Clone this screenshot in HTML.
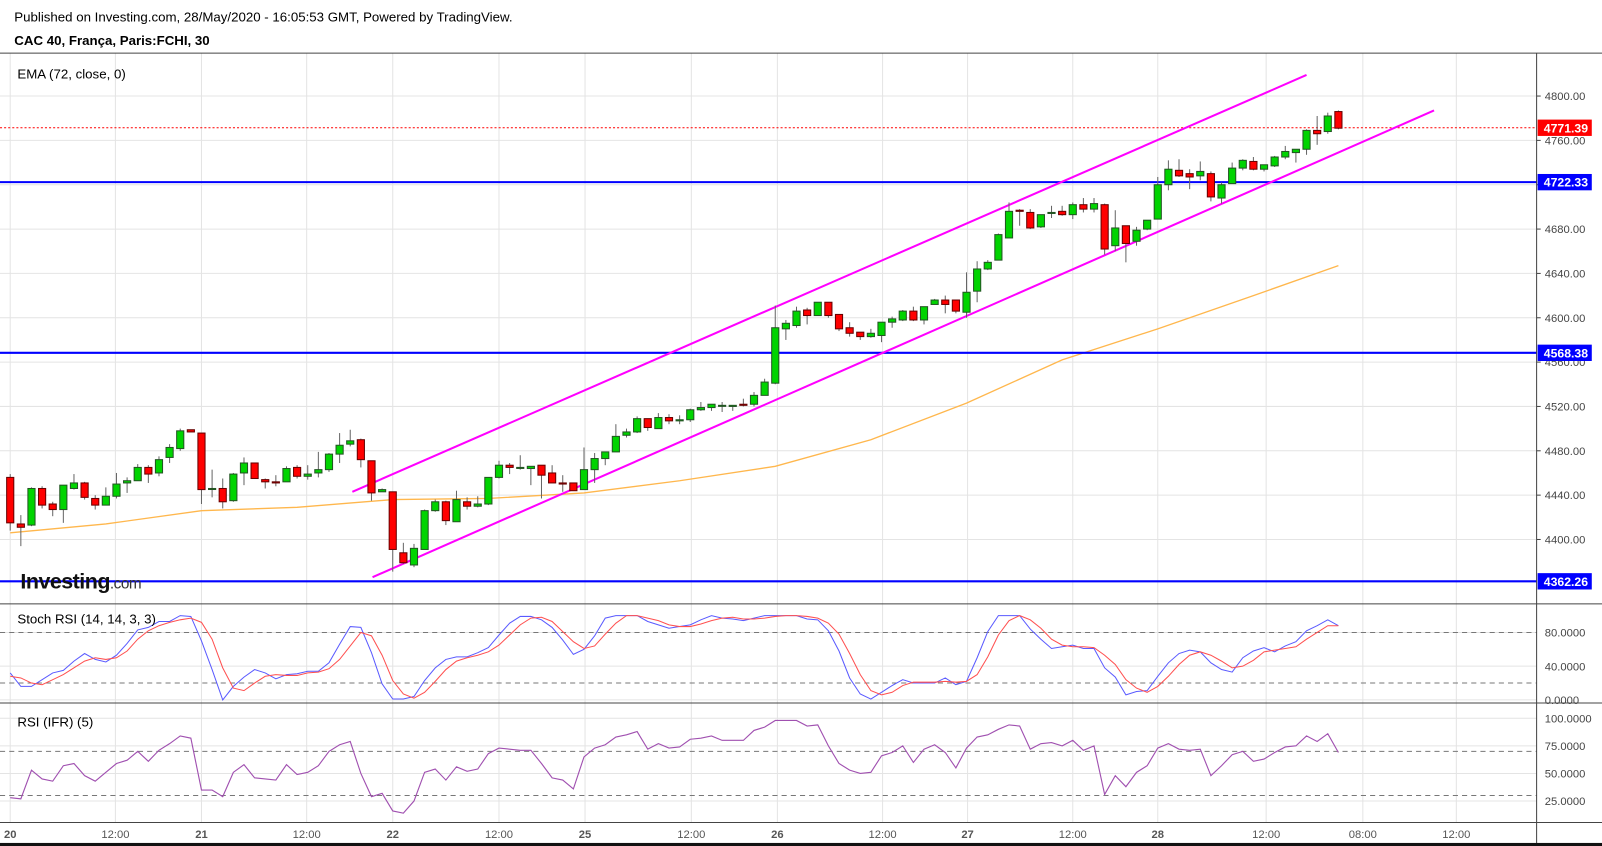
<!DOCTYPE html>
<html><head><meta charset="utf-8"><style>
html,body{margin:0;padding:0;background:#fff;width:1602px;height:846px;overflow:hidden}
svg{display:block;font-family:"Liberation Sans",Arial,sans-serif}
</style></head><body>
<svg id="chart" width="1602" height="846" viewBox="0 0 1568 828" preserveAspectRatio="none" xmlns="http://www.w3.org/2000/svg">
<rect x="0" y="0" width="1568" height="828" fill="#fff"/>
<text x="14" y="21" font-size="13" fill="#000">Published on Investing.com, 28/May/2020 - 16:05:53 GMT, Powered by TradingView.</text>
<text x="14" y="44" font-size="13" font-weight="bold" fill="#000">CAC 40, França, Paris:FCHI, 30</text>
<g id="grid"></g>
<g id="main"></g>
<g id="stoch"></g>
<g id="rsi"></g>
<g id="axes"></g>
<text x="17" y="77" font-size="13" fill="#000">EMA (72, close, 0)</text>
<text x="17" y="610" font-size="13" fill="#000">Stoch RSI (14, 14, 3, 3)</text>
<text x="17" y="711" font-size="13" fill="#000">RSI (IFR) (5)</text>
<g><text x="20" y="576" font-size="21" font-weight="bold" fill="#111" letter-spacing="-0.5">Investing<tspan font-weight="normal" font-size="15" fill="#333">.com</tspan></text></g>
</svg>
<script>
const opens=[4456,4414,4413,4446,4432,4427,4446,4451,4437,4431,4439,4451,4453,4465,4460,4474,4482,4499,4496,4446,4446,4435,4460,4469,4454,4452,4452,4465,4457,4460,4463,4477,4486,4490,4471,4443,4443,4388,4377,4391,4426,4434,4416,4434,4430,4432,4456,4467,4465,4464,4467,4460,4451,4451,4445,4463,4473,4479,4494,4497,4509,4500,4510,4507,4508,4517,4519,4521,4520,4522,4522,4530,4541,4590,4593,4607,4602,4614,4603,4591,4587,4583,4584,4596,4598,4606,4598,4612,4616,4616,4605,4624,4644,4652,4672,4697,4695,4682,4695,4696,4693,4702,4698,4702,4665,4683,4669,4680,4689,4720,4733,4730,4728,4730,4708,4721,4735,4741,4734,4737,4745,4749,4752,4769,4768,4786];
const closes=[4415,4411,4446,4431,4427,4449,4451,4438,4431,4439,4450,4453,4465,4459,4472,4483,4498,4497,4445,4446,4434,4459,4469,4455,4452,4451,4464,4457,4459,4463,4477,4485,4489,4472,4442,4445,4391,4379,4392,4426,4434,4417,4436,4430,4432,4456,4467,4465,4465,4466,4458,4451,4450,4444,4463,4473,4479,4493,4497,4509,4501,4510,4507,4508,4517,4519,4522,4521,4521,4521,4530,4542,4591,4595,4606,4602,4614,4602,4590,4586,4583,4586,4596,4599,4606,4598,4610,4616,4612,4606,4623,4644,4650,4675,4696,4696,4681,4693,4695,4693,4702,4698,4703,4662,4681,4667,4679,4688,4720,4734,4728,4727,4732,4709,4720,4735,4742,4734,4738,4745,4750,4752,4769,4766,4782,4771];
const highs=[4459,4422,4447,4448,4434,4449,4459,4452,4440,4447,4460,4456,4468,4467,4475,4486,4500,4499,4496,4463,4455,4460,4474,4469,4455,4458,4466,4467,4467,4479,4478,4496,4499,4491,4471,4446,4443,4397,4396,4427,4436,4435,4444,4438,4439,4456,4471,4469,4476,4466,4467,4467,4458,4451,4483,4478,4479,4504,4500,4511,4509,4514,4513,4512,4518,4524,4522,4524,4521,4527,4533,4545,4611,4598,4610,4609,4614,4614,4603,4596,4587,4590,4596,4601,4607,4610,4610,4617,4620,4616,4641,4651,4652,4676,4704,4698,4698,4693,4701,4701,4704,4708,4708,4703,4697,4683,4682,4688,4727,4742,4743,4734,4741,4732,4722,4740,4743,4745,4738,4746,4755,4752,4770,4782,4785,4787];
const lows=[4408,4394,4412,4428,4421,4415,4445,4436,4427,4431,4437,4442,4453,4451,4457,4469,4480,4497,4432,4438,4428,4434,4449,4455,4446,4448,4452,4455,4454,4456,4461,4469,4484,4465,4435,4443,4371,4378,4375,4391,4425,4413,4416,4427,4429,4431,4455,4459,4463,4449,4437,4451,4443,4444,4445,4451,4467,4479,4492,4496,4498,4500,4504,4504,4506,4516,4516,4515,4516,4520,4520,4530,4540,4580,4591,4594,4602,4600,4588,4583,4580,4582,4578,4591,4597,4597,4594,4612,4604,4604,4600,4614,4643,4652,4672,4683,4680,4681,4690,4692,4689,4695,4695,4657,4660,4650,4665,4679,4689,4715,4727,4716,4724,4705,4703,4721,4733,4733,4732,4736,4743,4740,4747,4756,4766,4770];
const emaIdx=[0,9,18,27,36,45,54,63,72,81,90,99,108,117,125];
const emaVal=[4406,4414,4426,4429,4436,4437,4442,4453,4466,4490,4523,4562,4590,4620,4647];
const stochK=[32,16,16,24,32,35,46,55,48,45,53,67,83,86,93,93,100,99,70,36,0,16,27,36,32,25,30,31,34,34,44,66,87,86,56,19,1,1,4,23,38,48,51,51,56,62,77,91,99,99,95,86,71,54,60,76,97,100,100,100,93,89,85,87,89,95,100,97,96,94,97,100,100,100,100,96,95,82,58,26,7,1,9,17,24,20,20,20,26,18,22,50,81,100,100,100,84,72,61,63,65,61,61,38,27,6,10,11,28,44,55,59,57,44,36,33,50,58,62,57,64,69,82,88,95,88];
const stochD=[28,26,20,18,24,30,38,46,50,48,50,58,72,82,88,92,95,97,92,72,38,14,11,20,28,30,29,29,32,33,37,48,64,80,76,53,23,7,2,9,22,36,46,50,53,57,65,77,89,97,98,93,81,69,61,64,78,91,100,100,97,94,89,87,87,90,94,97,98,96,96,97,99,100,100,99,97,91,78,55,30,11,6,9,17,21,21,21,22,21,22,30,51,77,94,100,95,85,72,65,63,63,62,53,42,24,14,9,16,28,42,53,57,53,46,38,40,47,57,59,61,63,72,80,88,88];
const rsiVal=[28,27,53,45,43,57,59,48,43,51,59,62,70,61,71,77,84,82,35,35,29,51,58,46,45,44,58,49,51,57,70,76,79,50,29,32,16,14,25,51,54,44,56,52,54,68,73,72,71,71,59,46,44,36,65,73,76,83,85,88,72,77,73,74,81,82,84,80,80,80,89,92,98,98,98,93,94,75,59,53,50,51,66,69,75,60,72,76,69,55,73,83,85,90,94,93,72,77,78,75,80,71,75,31,48,38,51,57,73,77,72,71,72,48,57,67,70,61,63,69,74,75,84,79,86,69];
const tickIdx=[0,9.9,18,27.9,36,46,54.1,64.1,72.2,82.1,90.1,100,108,118.2,127.3,136.1];
const tickLbl=["20","12:00","21","12:00","22","12:00","25","12:00","26","12:00","27","12:00","28","12:00","08:00","12:00"];
const tickBold=[1,0,1,0,1,0,1,0,1,0,1,0,1,0,0,0];
const priceTicks=[4800,4760,4720,4680,4640,4600,4560,4520,4480,4440,4400];
const priceLbls=["4800.00","4760.00","","4680.00","4640.00","4600.00","4560.00","4520.00","4480.00","4440.00","4400.00"];
const hLevels=[4722.33,4568.38,4362.26];
const lastPrice=4771.39;
const chanUpper=[[32.2,4443],[122,4819]];
const chanLower=[[34.1,4366],[134,4787]];
const stochTicks=[80,40,0];
const stochLbls=["80.0000","40.0000","0.0000"];
const rsiTicks=[100,75,50,25];
const rsiLbls=["100.0000","75.0000","50.0000","25.0000"];

const NS="http://www.w3.org/2000/svg";
const xOf=i=>10+i*10.4;
const yP=p=>94+(4800-p)*1.085;
const yS=v=>685-v*0.825;
const yR=v=>784-(v-25)*1.08;
const PR=1504;
function mk(tag,attrs,parent){const e=document.createElementNS(NS,tag);for(const k in attrs)e.setAttribute(k,attrs[k]);parent.appendChild(e);return e;}
const G=document.getElementById('grid'),M=document.getElementById('main'),S=document.getElementById('stoch'),R=document.getElementById('rsi'),A=document.getElementById('axes');

tickIdx.forEach((t,k)=>{const l=mk('line',{x1:xOf(t),x2:xOf(t),y1:52,y2:805,stroke:'#e4e4e4','stroke-width':1},G);

});
priceTicks.forEach(p=>{const l=mk('line',{x1:0,x2:PR,y1:yP(p),y2:yP(p),stroke:'#e4e4e4','stroke-width':1},G);

});
stochTicks.forEach(v=>{const l=mk('line',{x1:0,x2:PR,y1:yS(v),y2:yS(v),stroke:'#e4e4e4'},G);

});
rsiTicks.forEach(v=>{const l=mk('line',{x1:0,x2:PR,y1:yR(v),y2:yR(v),stroke:'#e4e4e4'},G);

});

const emaPts=emaIdx.map((i,k)=>xOf(i)+','+yP(emaVal[k])).join(' ');
const ema=mk('polyline',{points:emaPts,fill:'none',stroke:'#ffb74d','stroke-width':1.3},M);



hLevels.forEach(p=>{const l=mk('line',{x1:0,x2:PR,y1:yP(p),y2:yP(p),stroke:'#0000ff','stroke-width':2},M);

});
const lp=mk('line',{x1:0,x2:PR,y1:yP(lastPrice),y2:yP(lastPrice),stroke:'#ff0000','stroke-width':1,'stroke-dasharray':'2,2'},M);



[chanUpper,chanLower].forEach(c=>{const l=mk('line',{x1:xOf(c[0][0]),y1:yP(c[0][1]),x2:xOf(c[1][0]),y2:yP(c[1][1]),stroke:'#ff00ff','stroke-width':2},M);

});

opens.forEach((o,i)=>{const c=closes[i],x=xOf(i),up=c>=o;
const w=mk('line',{x1:x,x2:x,y1:yP(highs[i]),y2:yP(lows[i]),stroke:'#666','stroke-width':1},M);


const top=yP(Math.max(o,c)),h=Math.max(1,Math.abs(yP(o)-yP(c)));
const b=mk('rect',{x:x-3.5,y:top,width:7,height:h,fill:up?'#00d400':'#ff0000',stroke:up?'#225522':'#660000','stroke-width':1},M);

});

[[80,'stoch-80-line'],[20,'stoch-20-line']].forEach(d=>{const l=mk('line',{x1:0,x2:PR,y1:yS(d[0]),y2:yS(d[0]),stroke:'#777','stroke-dasharray':'5,4'},S);

});
const kl=mk('polyline',{points:stochK.map((v,i)=>xOf(i)+','+yS(v)).join(' '),fill:'none',stroke:'#5a5aff','stroke-width':1},S);


const dl=mk('polyline',{points:stochD.map((v,i)=>xOf(i)+','+yS(v)).join(' '),fill:'none',stroke:'#ff5050','stroke-width':1},S);



[[70,'rsi-70-line'],[30,'rsi-30-line']].forEach(d=>{const l=mk('line',{x1:0,x2:PR,y1:yR(d[0]),y2:yR(d[0]),stroke:'#777','stroke-dasharray':'5,4'},R);

});
const rl=mk('polyline',{points:rsiVal.map((v,i)=>xOf(i)+','+yR(v)).join(' '),fill:'none',stroke:'#a050b0','stroke-width':1.1},R);



[[52,'panel-top-border'],[591,'stoch-panel-border'],[688,'rsi-panel-border'],[805,'time-axis-border']].forEach(d=>{const l=mk('line',{x1:0,x2:1568,y1:d[0],y2:d[0],stroke:'#444','stroke-width':1},A);

});
const ra=mk('line',{x1:PR,x2:PR,y1:52,y2:826,stroke:'#444','stroke-width':1},A);


const bb=mk('rect',{x:0,y:825,width:1568,height:3,fill:'#111'},A);



function lab(txt,y,name){const t=mk('text',{x:1512,y:y+4,'font-size':11,fill:'#444'},A);t.textContent=txt;

}
priceTicks.forEach((p,k)=>{if(priceLbls[k])lab(priceLbls[k],yP(p),'price-tick-label');
const tk=mk('line',{x1:PR,x2:PR+4,y1:yP(p),y2:yP(p),stroke:'#444'},A);

});
stochTicks.forEach((v,k)=>lab(stochLbls[k],yS(v),'stoch-tick-label'));
rsiTicks.forEach((v,k)=>lab(rsiLbls[k],yR(v),'rsi-tick-label'));
function badge(p,col,name){const y=yP(p);const r=mk('rect',{x:PR+1,y:y-8,width:53,height:16,fill:col},A);


const t=mk('text',{x:PR+7,y:y+4.5,'font-size':12,'font-weight':'bold',fill:'#fff'},A);t.textContent=p.toFixed(2);

}
badge(lastPrice,'#ff0000','last-price-badge');
hLevels.forEach(p=>badge(p,'#0000ff','level-badge'));
tickIdx.forEach((t,k)=>{const e=mk('text',{x:xOf(t),y:820,'font-size':11,fill:'#555','text-anchor':'middle','font-weight':tickBold[k]?'bold':'normal'},A);e.textContent=tickLbl[k];

});
</script>
</body></html>
